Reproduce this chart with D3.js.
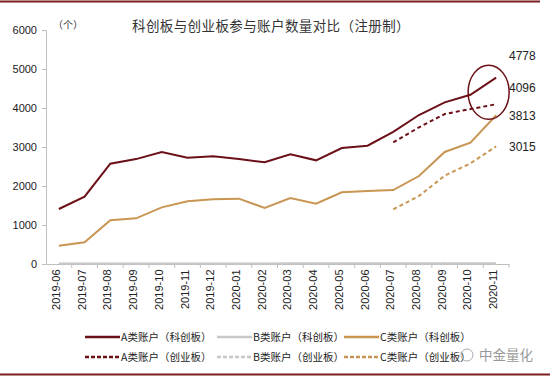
<!DOCTYPE html>
<html>
<head>
<meta charset="utf-8">
<script src="https://cdn.jsdelivr.net/npm/d3@7"></script>
<style>
body { margin: 0; background: #fff; }
text { font-family: "Liberation Sans", Arial, sans-serif; }
.cn { font-family: "Noto Sans CJK SC", sans-serif; }
</style>
</head>
<body>
<div id="chart"></div>
<script>
// months on the x axis
const months = ["2019-06","2019-07","2019-08","2019-09","2019-10","2019-11","2019-12",
  "2020-01","2020-02","2020-03","2020-04","2020-05","2020-06","2020-07","2020-08",
  "2020-09","2020-10","2020-11"];

// 科创板 (solid lines), full period
const aStar = [1410,1726,2573,2690,2872,2727,2761,2690,2607,2812,2658,2974,3034,3390,3820,4145,4340,4778];
const bStar = [10,12,14,14,15,16,16,16,16,17,17,18,18,18,19,19,20,20];
const cStar = [470,556,1120,1171,1453,1607,1658,1675,1436,1692,1547,1838,1872,1897,2256,2872,3111,3813];

// 创业板 (dashed lines), from 2020-07 (registration system)
const gemMonths = ["2020-07","2020-08","2020-09","2020-10","2020-11"];
const aGem = [3120,3504,3846,3974,4096];
const bGem = [8,10,12,14,15];
const cGem = [1402,1744,2265,2581,3015];

const yTicks = [0,1000,2000,3000,4000,5000,6000];
const endLabels = ["4778","4096","3813","3015"];

const colA = "#6b1017", colB = "#c8c8c8", colC = "#c99552";

const series = [
  {name: "A类账户（科创板）", x: months, y: aStar, color: colA, dash: null},
  {name: "B类账户（科创板）", x: months, y: bStar, color: colB, dash: null},
  {name: "C类账户（科创板）", x: months, y: cStar, color: colC, dash: null},
  {name: "A类账户（创业板）", x: gemMonths, y: aGem, color: colA, dash: "4,3"},
  {name: "B类账户（创业板）", x: gemMonths, y: bGem, color: colB, dash: "4,3"},
  {name: "C类账户（创业板）", x: gemMonths, y: cGem, color: colC, dash: "4,3"}
];

const width = 550, height = 378;
const margin = {left: 46, right: 41, top: 30, bottom: 114};

const svg = d3.select("#chart").append("svg")
  .attr("width", width)
  .attr("height", height);

// frame lines top and bottom
svg.append("line").attr("x1", 0).attr("x2", 540).attr("y1", 1.5).attr("y2", 1.5)
  .attr("stroke", "#7a1c1f").attr("stroke-width", 2);
svg.append("line").attr("x1", 0).attr("x2", 550).attr("y1", 374.5).attr("y2", 374.5)
  .attr("stroke", "#7a1c1f").attr("stroke-width", 2);

const xScale = d3.scaleBand()
  .domain(months)
  .range([margin.left, width - margin.right]);
const yScale = d3.scaleLinear()
  .domain([0, 6000])
  .range([height - margin.bottom, margin.top]);

const xc = d => xScale(d) + xScale.bandwidth() / 2;

// y axis
const yAxis = svg.append("g")
  .attr("transform", `translate(${margin.left},0)`)
  .call(d3.axisLeft(yScale).tickValues(yTicks).tickSize(4).tickPadding(5).tickFormat(d3.format("d")));
yAxis.select(".domain").attr("stroke", "#bfbfbf");
yAxis.selectAll(".tick line").attr("stroke", "#bfbfbf");
yAxis.selectAll("text").attr("font-size", 11).attr("fill", "#222");

// x axis, ticks between categories
const xAxis = svg.append("g")
  .attr("transform", `translate(0,${yScale(0)})`)
  .call(d3.axisBottom(xScale).tickSize(0).tickPadding(6));
xAxis.select(".domain").attr("stroke", "#bfbfbf");
xAxis.selectAll(".tick text")
  .attr("font-size", 11).attr("fill", "#222")
  .attr("transform", "rotate(-90)")
  .attr("text-anchor", "end")
  .attr("dx", "-0.5em").attr("dy", "-0.45em");
xAxis.selectAll(".sep").data(months).enter().append("line")
  .attr("x1", d => xScale(d) + xScale.bandwidth())
  .attr("x2", d => xScale(d) + xScale.bandwidth())
  .attr("y1", 0).attr("y2", 4)
  .attr("stroke", "#bfbfbf");

// lines
const makeLine = (s) => d3.line()
  .x((d, i) => xc(s.x[i]))
  .y(d => yScale(d))(s.y);

svg.append("g").selectAll("path").data(series).enter()
  .append("path")
  .attr("fill", "none")
  .attr("stroke", d => d.color)
  .attr("stroke-width", 2)
  .attr("stroke-dasharray", d => d.dash)
  .attr("d", d => makeLine(d));

// end value labels
const labelYs = [aStar[aStar.length-1], aGem[aGem.length-1], cStar[cStar.length-1], cGem[cGem.length-1]];
const labelOffsets = [-22, -16, 1, 0];
svg.append("g").selectAll("text").data(endLabels).enter()
  .append("text")
  .attr("x", 509)
  .attr("y", (d, i) => yScale(labelYs[i]) + labelOffsets[i])
  .attr("dy", "0.35em")
  .attr("font-size", 12)
  .attr("fill", "#222")
  .text(d => d);

// highlight ellipse around latest 科创板 A value
svg.append("ellipse")
  .attr("cx", xc("2020-11") - 7.5)
  .attr("cy", yScale(aGem[aGem.length-1]) - 12)
  .attr("rx", 20.5)
  .attr("ry", 27)
  .attr("fill", "none")
  .attr("stroke", "#6b1017")
  .attr("stroke-width", 1.5);

// title and unit
svg.append("text").attr("class", "cn")
  .attr("x", 271).attr("y", 31)
  .attr("text-anchor", "middle")
  .attr("font-size", 13.5)
  .attr("letter-spacing", 0.4)
  .attr("fill", "#333")
  .text("科创板与创业板参与账户数量对比（注册制）");
svg.append("text").attr("class", "cn")
  .attr("x", 53).attr("y", 29)
  .attr("font-size", 10)
  .attr("fill", "#333")
  .text("（个）");

// legend
const legend = svg.append("g");
const legX = [85, 217, 344];
const legY = [337, 357];
series.forEach((s, i) => {
  const x = legX[i % 3], y = legY[Math.floor(i / 3)];
  legend.append("line")
    .attr("x1", x).attr("x2", x + 35).attr("y1", y).attr("y2", y)
    .attr("stroke", s.color).attr("stroke-width", 2.5)
    .attr("stroke-dasharray", s.dash ? "4,2" : null);
  legend.append("text").attr("class", "cn")
    .attr("x", x + 36).attr("y", y).attr("dy", "0.35em")
    .attr("font-size", 10.5).attr("fill", "#222")
    .text(s.name);
});

// watermark
svg.append("circle").attr("cx", 467).attr("cy", 355).attr("r", 6)
  .attr("fill", "none").attr("stroke", "#aaa").attr("stroke-width", 1);
svg.append("text").attr("class", "cn")
  .attr("x", 479).attr("y", 360)
  .attr("font-size", 13.5).attr("fill", "#999")
  .text("中金量化");
</script>
</body>
</html>
